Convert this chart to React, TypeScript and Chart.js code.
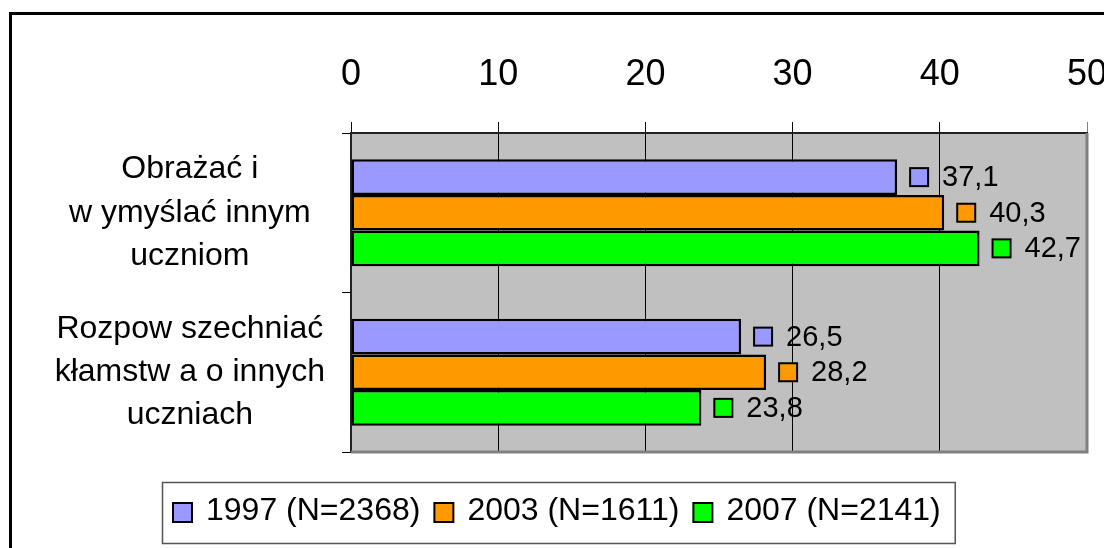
import React, { useEffect, useRef } from 'react';
import { Chart, registerables } from 'chart.js';

Chart.register(...registerables);

const FONT = "'Liberation Sans', Arial, Helvetica, sans-serif";

const categories: string[][] = [
  ['Obrażać i', 'w ymyślać innym', 'uczniom'],
  ['Rozpow szechniać', 'kłamstw a o innych', 'uczniach'],
];
const seriesLabels = ['1997 (N=2368)', '2003 (N=1611)', '2007 (N=2141)'];
const values1997 = [37.1, 26.5];
const values2003 = [40.3, 28.2];
const values2007 = [42.7, 23.8];
const seriesColors = ['#9999FF', '#FF9900', '#00FF00'];
const axisMin = 0;
const axisMax = 50;
const axisStep = 10;

const backgroundPlugin = {
  id: 'bgFrame',
  beforeDraw(chart: any) {
    const { ctx, chartArea: a } = chart;
    ctx.save();
    ctx.strokeStyle = '#000';
    ctx.lineWidth = 3;
    ctx.strokeRect(10.5, 13.5, 3000, 3000);
    ctx.fillStyle = '#C0C0C0';
    ctx.fillRect(a.left, a.top, a.right - a.left, a.bottom - a.top);
    ctx.restore();
  },
  afterDatasetsDraw(chart: any) {
    const { ctx, chartArea: a } = chart;
    ctx.save();
    ctx.strokeStyle = '#808080';
    ctx.lineWidth = 3;
    ctx.beginPath();
    ctx.moveTo(a.right, a.top);
    ctx.lineTo(a.right, a.bottom);
    ctx.lineTo(a.left, a.bottom);
    ctx.stroke();
    ctx.restore();
  },
};

const valueLabelPlugin = {
  id: 'valueLabels',
  afterDatasetsDraw(chart: any) {
    const ctx = chart.ctx;
    ctx.save();
    chart.data.datasets.forEach((ds: any, di: number) => {
      const meta = chart.getDatasetMeta(di);
      meta.data.forEach((bar: any, i: number) => {
        const v = ds.data[i] as number;
        const x = bar.x;
        const y = bar.y;
        const s = 18;
        ctx.fillStyle = ds.backgroundColor;
        ctx.fillRect(x + 13, y - s / 2, s, s);
        ctx.strokeStyle = '#000';
        ctx.lineWidth = 2;
        ctx.strokeRect(x + 13, y - s / 2, s, s);
        ctx.fillStyle = '#000';
        ctx.font = `29px ${FONT}`;
        ctx.textAlign = 'left';
        ctx.textBaseline = 'middle';
        ctx.fillText(v.toFixed(1).replace('.', ','), x + 45, y + 1);
      });
    });
    ctx.restore();
  },
};

const legendPlugin = {
  id: 'customLegend',
  afterDraw(chart: any) {
    const ctx = chart.ctx;
    ctx.save();
    ctx.font = `32px ${FONT}`;
    const left = 162;
    const top = 482;
    const h = 61;
    const cy = top + h / 2;
    let x = left + 11;
    chart.data.datasets.forEach((ds: any) => {
      const s = 19;
      ctx.fillStyle = ds.backgroundColor;
      ctx.fillRect(x, cy - s / 2, s, s);
      ctx.strokeStyle = '#000';
      ctx.lineWidth = 2;
      ctx.strokeRect(x, cy - s / 2, s, s);
      ctx.fillStyle = '#000';
      ctx.textAlign = 'left';
      ctx.textBaseline = 'middle';
      ctx.fillText(ds.label, x + 33, cy - 1);
      const w = ctx.measureText(ds.label).width;
      x = x + 33 + w + 14;
    });
    ctx.strokeStyle = '#555';
    ctx.lineWidth = 1.5;
    ctx.strokeRect(left + 0.5, top + 0.5, x - left, h);
    ctx.restore();
  },
};

export default function App() {
  const ref = useRef<HTMLCanvasElement | null>(null);

  useEffect(() => {
    if (!ref.current) return;
    Chart.defaults.font.family = FONT;
    const values = [values1997, values2003, values2007];
    const chart = new Chart(ref.current, {
      type: 'bar',
      data: {
        labels: categories,
        datasets: seriesLabels.map((label, i) => ({
          label,
          data: values[i],
          backgroundColor: seriesColors[i],
          borderColor: '#000',
          borderWidth: 2.5,
          borderSkipped: false,
          categoryPercentage: 0.67,
          barPercentage: 1,
        })),
      },
      options: {
        indexAxis: 'y',
        responsive: false,
        animation: false,
        devicePixelRatio: 1,
        layout: { padding: { left: 0, top: 0, right: 17, bottom: 96 } },
        plugins: { legend: { display: false }, tooltip: { enabled: false } },
        scales: {
          x: {
            position: 'top',
            min: axisMin,
            max: axisMax,
            ticks: {
              stepSize: axisStep,
              color: '#000',
              font: { size: 36, family: FONT },
              padding: 25,
              maxRotation: 0,
            },
            grid: {
              color: (c: any) => (c.tick && c.tick.value === axisMax ? '#808080' : '#000'),
              lineWidth: 1,
              tickLength: 11,
            },
            border: { color: '#222', width: 2 },
            afterFit: (s: any) => {
              s.height = 133;
              s.paddingLeft = 0;
              s.paddingRight = 0;
            },
          },
          y: {
            ticks: {
              color: '#000',
              font: { size: 32, family: FONT, lineHeight: 1.35 },
              crossAlign: 'center',
              padding: 17,
            },
            grid: { drawOnChartArea: false, tickLength: 9, color: '#000', offset: true },
            border: { color: '#222', width: 2 },
            afterFit: (s: any) => {
              s.width = 351;
              s.paddingTop = 0;
              s.paddingBottom = 0;
            },
          },
        },
      } as any,
      plugins: [backgroundPlugin, valueLabelPlugin, legendPlugin],
    });
    return () => chart.destroy();
  }, []);

  return (
    <div style={{ position: 'absolute', left: 0, top: 0, width: 1104, height: 548, overflow: 'hidden', background: '#fff' }}>
      <canvas ref={ref} width={1104} height={548} style={{ display: 'block', width: 1104, height: 548 }} />
    </div>
  );
}
